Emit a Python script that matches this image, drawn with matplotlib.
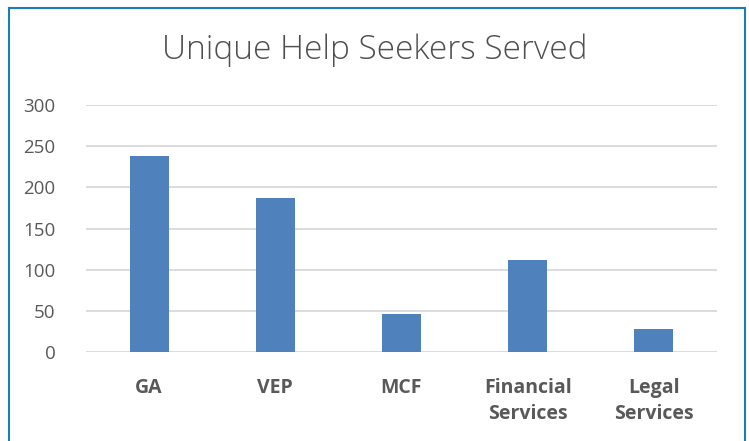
import matplotlib
matplotlib.use('Agg')
import matplotlib.pyplot as plt
from matplotlib.lines import Line2D
import numpy as np

categories = ['GA', 'VEP', 'MCF', 'Financial\nServices', 'Legal\nServices']
values = [238, 187, 46, 112, 28]
yticks = [0, 50, 100, 150, 200, 250, 300]

plt.rcParams['font.family'] = ['Open Sans', 'DejaVu Sans']

fig = plt.figure(figsize=(7.49, 4.41), dpi=100)
ax = fig.add_axes([86/749, 1 - 352/441, (717 - 86)/749, (352 - 105)/441])

x = np.arange(len(categories))
ax.bar(x, values, width=0.31, color='#4f81bd', zorder=3)

ax.set_xlim(-0.5, len(categories) - 0.5)
ax.set_ylim(0, 300)
ax.set_yticks(yticks)
ax.set_xticks(x)
ax.set_xticklabels(categories, fontweight='bold', fontsize=14, color='#595959', linespacing=1.35)
ax.tick_params(axis='y', length=0, labelsize=13.5, labelcolor='#595959', pad=22)
ax.tick_params(axis='x', length=0, pad=19)
ax.grid(axis='y', color='#d9d9d9', linewidth=1.3, zorder=0)
for s in ax.spines.values():
    s.set_visible(False)

fig.text(0.5, 1 - 50/441, 'Unique Help Seekers Served', ha='center', va='center',
         fontsize=24, color='#505050', fontweight='light')

# outer frame (no bottom edge visible)
c = '#1a7db4'
fig.add_artist(Line2D([9/749, 9/749], [0, 1 - 8/441], color=c, lw=1.5))
fig.add_artist(Line2D([9/749, 745/749], [1 - 8/441, 1 - 8/441], color=c, lw=1.5))
fig.add_artist(Line2D([745/749, 745/749], [0, 1 - 8/441], color=c, lw=1.5))

fig.savefig('out.png', dpi=100)
